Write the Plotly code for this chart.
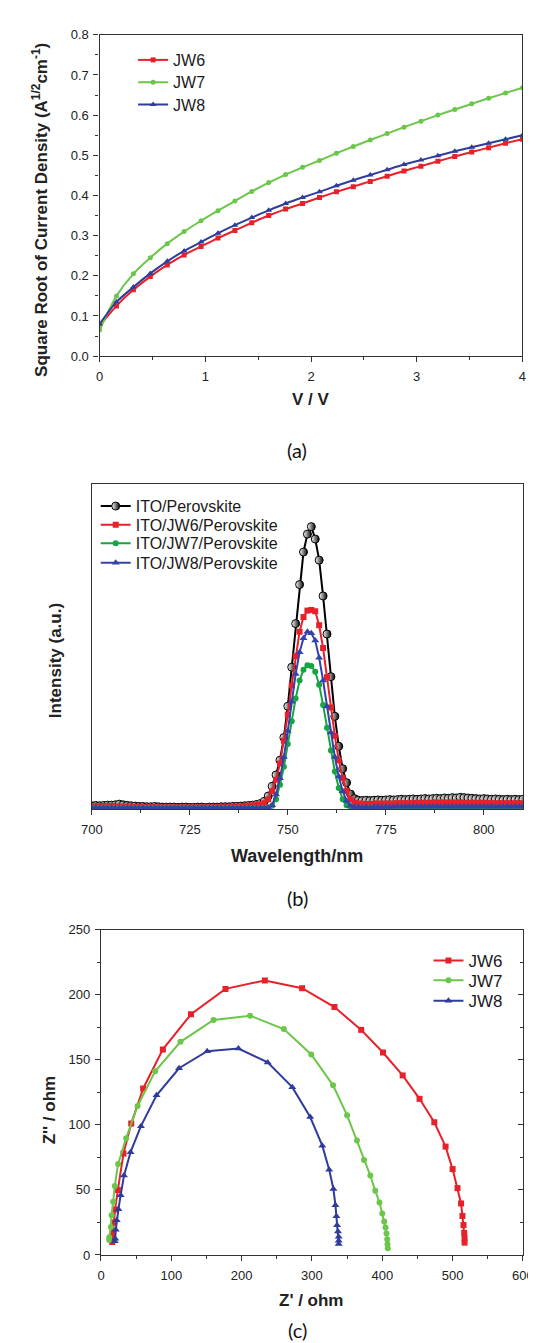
import plotly.graph_objects as go

W, H = 536, 1343

# ---------------- (a) data ----------------
volt = [0.0, 0.16, 0.32, 0.48, 0.64, 0.80, 0.96, 1.12, 1.28, 1.44, 1.60, 1.76, 1.92,
        2.08, 2.24, 2.40, 2.56, 2.72, 2.88, 3.04, 3.20, 3.36, 3.52, 3.68, 3.84, 4.00]
a_jw6 = [0.075, 0.125, 0.165, 0.198, 0.227, 0.252, 0.273, 0.294, 0.313, 0.332, 0.350, 0.366, 0.380,
         0.395, 0.409, 0.422, 0.435, 0.448, 0.461, 0.473, 0.485, 0.497, 0.508, 0.519, 0.530, 0.540]
a_jw7 = [0.065, 0.150, 0.205, 0.245, 0.280, 0.310, 0.337, 0.362, 0.386, 0.410, 0.432, 0.452, 0.470,
         0.487, 0.505, 0.522, 0.538, 0.554, 0.570, 0.585, 0.600, 0.614, 0.628, 0.642, 0.655, 0.668]
a_jw8 = [0.080, 0.135, 0.172, 0.206, 0.236, 0.262, 0.284, 0.306, 0.326, 0.345, 0.363, 0.380, 0.395,
         0.409, 0.424, 0.438, 0.451, 0.464, 0.477, 0.488, 0.499, 0.510, 0.520, 0.530, 0.540, 0.550]

# ---------------- (b) data ----------------
wavelength = [700, 701, 702, 703, 704, 705, 706, 707, 708, 709, 710, 711, 712, 713, 714, 715, 716, 717, 718, 719,
              720, 721, 722, 723, 724, 725, 726, 727, 728, 729, 730, 731, 732, 733, 734, 735, 736, 737, 738, 739,
              740, 741, 742, 743, 744, 745, 746, 747, 748, 749, 750, 751, 752, 753, 754, 755, 756, 757, 758, 759,
              760, 761, 762, 763, 764, 765, 766, 767, 768, 769, 770, 771, 772, 773, 774, 775, 776, 777, 778, 779,
              780, 781, 782, 783, 784, 785, 786, 787, 788, 789, 790, 791, 792, 793, 794, 795, 796, 797, 798, 799,
              800, 801, 802, 803, 804, 805, 806, 807, 808, 809, 810]
pl_ito = [.010, .011, .010, .011, .012, .012, .013, .015, .013, .011, .010, .009, .008, .008, .007, .007, .008, .007, .006, .006,
          .006, .006, .005, .006, .006, .005, .005, .006, .006, .005, .006, .006, .006, .007, .007, .007, .008, .008, .009, .010,
          .011, .012, .014, .017, .024, .040, .070, .105, .150, .220, .316, .436, .570, .690, .790, .845, .868, .830, .765, .655,
          .538, .407, .285, .193, .124, .081, .046, .032, .027, .026, .027, .026, .027, .028, .027, .028, .029, .028, .029, .030,
          .029, .030, .031, .030, .031, .032, .031, .032, .033, .032, .034, .033, .035, .034, .036, .035, .034, .033, .032, .031,
          .032, .031, .030, .031, .030, .029, .030, .029, .030, .029, .030]
pl_jw6 = [.009, .009, .008, .009, .008, .009, .008, .008, .007, .007, .007, .006, .006, .006, .006, .005, .006, .005, .005, .005,
          .005, .005, .005, .005, .005, .005, .005, .005, .005, .005, .005, .005, .006, .006, .006, .006, .007, .007, .008, .009,
          .010, .011, .012, .014, .018, .030, .055, .090, .140, .210, .290, .380, .470, .545, .590, .610, .612, .608, .565, .495,
          .405, .312, .225, .150, .095, .055, .030, .020, .017, .016, .016, .015, .016, .017, .016, .017, .016, .017, .018, .017,
          .018, .017, .018, .019, .018, .019, .018, .019, .020, .019, .020, .019, .020, .019, .020, .019, .018, .019, .018, .019,
          .018, .019, .018, .017, .018, .017, .018, .017, .018, .017, .018]
pl_jw7 = [.005, .005, .004, .005, .004, .005, .004, .004, .004, .004, .004, .004, .004, .004, .004, .004, .004, .004, .004, .004,
          .004, .004, .004, .004, .004, .004, .004, .004, .004, .004, .004, .004, .004, .004, .004, .004, .004, .004, .004, .004,
          .004, .004, .004, .004, .004, .005, .010, .030, .075, .130, .200, .270, .340, .395, .428, .442, .440, .422, .382, .320,
          .250, .180, .115, .065, .030, .012, .006, .005, .005, .004, .004, .005, .004, .005, .004, .005, .004, .005, .004, .005,
          .004, .005, .004, .005, .004, .005, .004, .005, .004, .005, .004, .005, .004, .005, .004, .005, .004, .005, .004, .005,
          .004, .005, .004, .005, .004, .005, .004, .005, .004, .005, .004]
pl_jw8 = [.004, .004, .003, .004, .003, .004, .003, .003, .003, .003, .003, .003, .003, .003, .003, .003, .003, .003, .003, .003,
          .003, .003, .003, .003, .003, .003, .003, .003, .003, .003, .003, .003, .003, .003, .003, .003, .003, .003, .003, .003,
          .003, .003, .003, .003, .003, .004, .012, .045, .095, .160, .240, .330, .415, .482, .525, .545, .540, .518, .465, .395,
          .315, .235, .160, .100, .055, .025, .010, .006, .006, .005, .006, .005, .006, .007, .006, .007, .006, .007, .008, .007,
          .008, .007, .008, .007, .008, .007, .008, .007, .008, .007, .008, .007, .008, .007, .008, .007, .008, .007, .008, .007,
          .008, .007, .008, .007, .008, .007, .008, .007, .008, .007, .008]

# ---------------- (c) data ----------------
c_jw6_re = [16, 16.5, 17, 18, 20, 24, 32, 43, 60, 88, 128, 177, 233, 286, 332, 370, 401, 429, 453, 474,
            490, 500, 507, 512, 514, 515.5, 516.5, 517, 517]
c_jw6_im = [10, 14, 18, 25, 35, 50, 78, 101, 128, 158, 185, 204.5, 211, 205, 190.5, 173, 155.6, 138, 120, 102,
            83.3, 66, 51.4, 39.6, 30, 23, 17, 13, 9.5]
c_jw7_re = [11.6, 11.7, 14, 15, 17.3, 19.6, 24.3, 35.8, 52, 77, 113, 160, 212, 260, 299, 330, 350, 364, 374,
            383, 390, 396, 400, 402.7, 404.6, 406, 407, 407.4, 407.8]
c_jw7_im = [11.5, 13.7, 21.5, 30.6, 41, 53, 70, 89.8, 114.5, 141.2, 163.8, 180.6, 183.9, 173.6, 154.1, 130.4,
            107.3, 88, 73, 61, 49.4, 40.4, 31.9, 25.7, 21.1, 16.5, 12.1, 8.2, 5.1]
c_jw8_re = [19.6, 20.2, 21, 22.4, 24.8, 28, 32.7, 42, 56.8, 79, 111, 151, 195.5, 237, 272, 297.5, 314.7, 324.5,
            330.5, 333.4, 334.8, 335.7, 337, 338, 338, 338]
c_jw8_im = [10.5, 12.4, 19.4, 26.7, 35.2, 46, 61, 79, 99, 122.7, 143.5, 156.6, 158.7, 148, 129, 106, 84, 65.6,
            50.7, 38.3, 29.8, 22.8, 18, 14, 11, 8.5]

RED, GREEN_A, BLUE = "#e8202a", "#6cc64a", "#2f3c9c"
GREEN_B, BLUE_B = "#17a443", "#3343aa"
ARIAL = "Liberation Sans, Arial"

def ypap(px):
    return 1 - px / H

def xpap(px):
    return px / W

fig = go.Figure()
legends = {}

def add_legend(key, xpx, ypx, size):
    legends[key] = dict(x=xpap(xpx), y=ypap(ypx), xanchor="left", yanchor="middle",
                        bgcolor="rgba(0,0,0,0)", borderwidth=0,
                        font=dict(family=ARIAL, size=size, color="#1a1a1a"), itemwidth=30)

# (a)
a_series = [("JW6", a_jw6, RED, "square", 5, 45.5),
            ("JW7", a_jw7, GREEN_A, "circle", 5, 68),
            ("JW8", a_jw8, BLUE, "triangle-up", 6, 90.5)]
for i, (name, ys, col, sym, sz, ly) in enumerate(a_series):
    key = "legend" if i == 0 else f"legend{10 + i}"
    add_legend(key, 119, ly, 16)
    fig.add_trace(go.Scatter(x=volt, y=ys, mode="lines+markers", name=name,
                             line=dict(color=col, width=2, shape="spline", smoothing=0.6),
                             marker=dict(symbol=sym, size=sz, color=col),
                             xaxis="x", yaxis="y", legend=key))

# (b)
fig.add_trace(go.Scatter(x=wavelength, y=pl_ito, mode="lines+markers", name="ITO/Perovskite",
                         line=dict(color="black", width=2),
                         marker=dict(symbol="circle", size=8, color="white",
                                     gradient=dict(type="horizontal", color="black"),
                                     line=dict(color="black", width=1)),
                         xaxis="x2", yaxis="y2", legend="legend2"))
add_legend("legend2", 80, 496.7, 16)
b_series = [("ITO/JW6/Perovskite", pl_jw6, RED, "square", 6, 515.7),
            ("ITO/JW7/Perovskite", pl_jw7, GREEN_B, "circle", 6, 534.3),
            ("ITO/JW8/Perovskite", pl_jw8, BLUE_B, "triangle-up", 7, 554)]
for i, (name, ys, col, sym, sz, ly) in enumerate(b_series):
    key = f"legend{20 + i}"
    add_legend(key, 80, ly, 16)
    fig.add_trace(go.Scatter(x=wavelength, y=ys, mode="lines+markers", name=name,
                             line=dict(color=col, width=2),
                             marker=dict(symbol=sym, size=sz, color=col),
                             xaxis="x2", yaxis="y2", legend=key))

# (c)
c_series = [("JW6", c_jw6_re, c_jw6_im, RED, "square", 6, 956.7),
            ("JW7", c_jw7_re, c_jw7_im, GREEN_A, "circle", 6, 976.7),
            ("JW8", c_jw8_re, c_jw8_im, BLUE, "triangle-up", 7, 997.3)]
for i, (name, xs, ys, col, sym, sz, ly) in enumerate(c_series):
    key = "legend3" if i == 0 else f"legend{30 + i}"
    add_legend(key, 427, ly, 17)
    fig.add_trace(go.Scatter(x=xs, y=ys, mode="lines+markers", name=name,
                             line=dict(color=col, width=2),
                             marker=dict(symbol=sym, size=sz, color=col),
                             xaxis="x3", yaxis="y3", legend=key))
fig.add_trace(go.Scatter(x=[None], y=[None], xaxis="x3", yaxis="y4", showlegend=False))

tickfont = dict(family=ARIAL, size=13, color="#222")
common = dict(showgrid=False, zeroline=False, showline=True, linecolor="#333", linewidth=1.2,
              mirror=True, tickfont=tickfont, tickcolor="#333", ticklen=5, tickwidth=1)

fig.update_layout(
    width=W, height=H, margin=dict(l=0, r=0, t=0, b=0),
    paper_bgcolor="white", plot_bgcolor="white",
    xaxis=dict(domain=[xpap(84), xpap(525)], anchor="y", range=[0, 4], dtick=1, ticks="outside",
               ticklabelstandoff=3,
               minor=dict(ticks="outside", ticklen=3, dtick=0.5, tickcolor="#333"), **common),
    yaxis=dict(domain=[ypap(345), ypap(20)], anchor="x", range=[0, 0.8], dtick=0.1, tickformat=".1f",
               ticks="outside", ticklabelstandoff=2,
               minor=dict(ticks="outside", ticklen=3, dtick=0.05, tickcolor="#333"), **common),
    xaxis2=dict(domain=[xpap(76), xpap(525.5)], anchor="y2", range=[700, 810], dtick=25, tick0=700,
                ticks="outside", ticklabelstandoff=3,
                minor=dict(ticks="outside", ticklen=3, dtick=12.5, tickcolor="#333"), **common),
    yaxis2=dict(domain=[ypap(803), ypap(474)], anchor="x2", range=[0, 1.0], showticklabels=False,
                ticks="", **common),
    xaxis3=dict(domain=[xpap(85.5), xpap(525.5)], anchor="y3", range=[0, 600], dtick=100,
                ticks="outside", ticklabelstandoff=3,
                minor=dict(ticks="outside", ticklen=3, dtick=50, tickcolor="#333"), **common),
    yaxis3=dict(domain=[ypap(1254), ypap(925)], anchor="x3", range=[0, 250], dtick=50,
                ticks="outside", ticklabelstandoff=2,
                minor=dict(ticks="outside", ticklen=3, dtick=25, tickcolor="#333"), **common),
    yaxis4=dict(overlaying="y3", side="right", anchor="x3", range=[0, 250], dtick=50, showgrid=False,
                zeroline=False, showline=False, showticklabels=False, ticks="inside", ticklen=5,
                tickcolor="#333", minor=dict(ticks="inside", ticklen=3, dtick=25, tickcolor="#333")),
    **legends,
)

ann = [
    dict(text="<b>Square Root of Current Density (A<sup>1/2</sup>cm<sup>-1</sup>)</b>",
         x=xpap(22), y=ypap(197), textangle=-90, font=dict(family=ARIAL, size=17, color="#222")),
    dict(text="<b>V / V</b>", x=xpap(304), y=ypap(389), font=dict(family=ARIAL, size=17, color="#222")),
    dict(text="(a)", x=xpap(290), y=ypap(440), font=dict(family="Lato", size=20, color="#111")),
    dict(text="<b>Intensity (a.u.)</b>", x=xpap(38), y=ypap(653), textangle=-90,
         font=dict(family=ARIAL, size=17, color="#222")),
    dict(text="<b>Wavelength/nm</b>", x=xpap(290), y=ypap(851), font=dict(family=ARIAL, size=18, color="#222")),
    dict(text="(b)", x=xpap(290), y=ypap(893), font=dict(family="Lato", size=20, color="#111")),
    dict(text="<b>Z'' / ohm</b>", x=xpap(32), y=ypap(1107), textangle=-90, font=dict(family=ARIAL, size=17, color="#222")),
    dict(text="<b>Z' / ohm</b>", x=xpap(304), y=ypap(1300), font=dict(family=ARIAL, size=17, color="#222")),
    dict(text="(c)", x=xpap(290), y=ypap(1330), font=dict(family="Lato", size=20, color="#111")),
]
for a in ann:
    a.update(xref="paper", yref="paper", showarrow=False, xanchor="center", yanchor="middle")
fig.update_layout(annotations=ann)

fig.write_html("out.html")
